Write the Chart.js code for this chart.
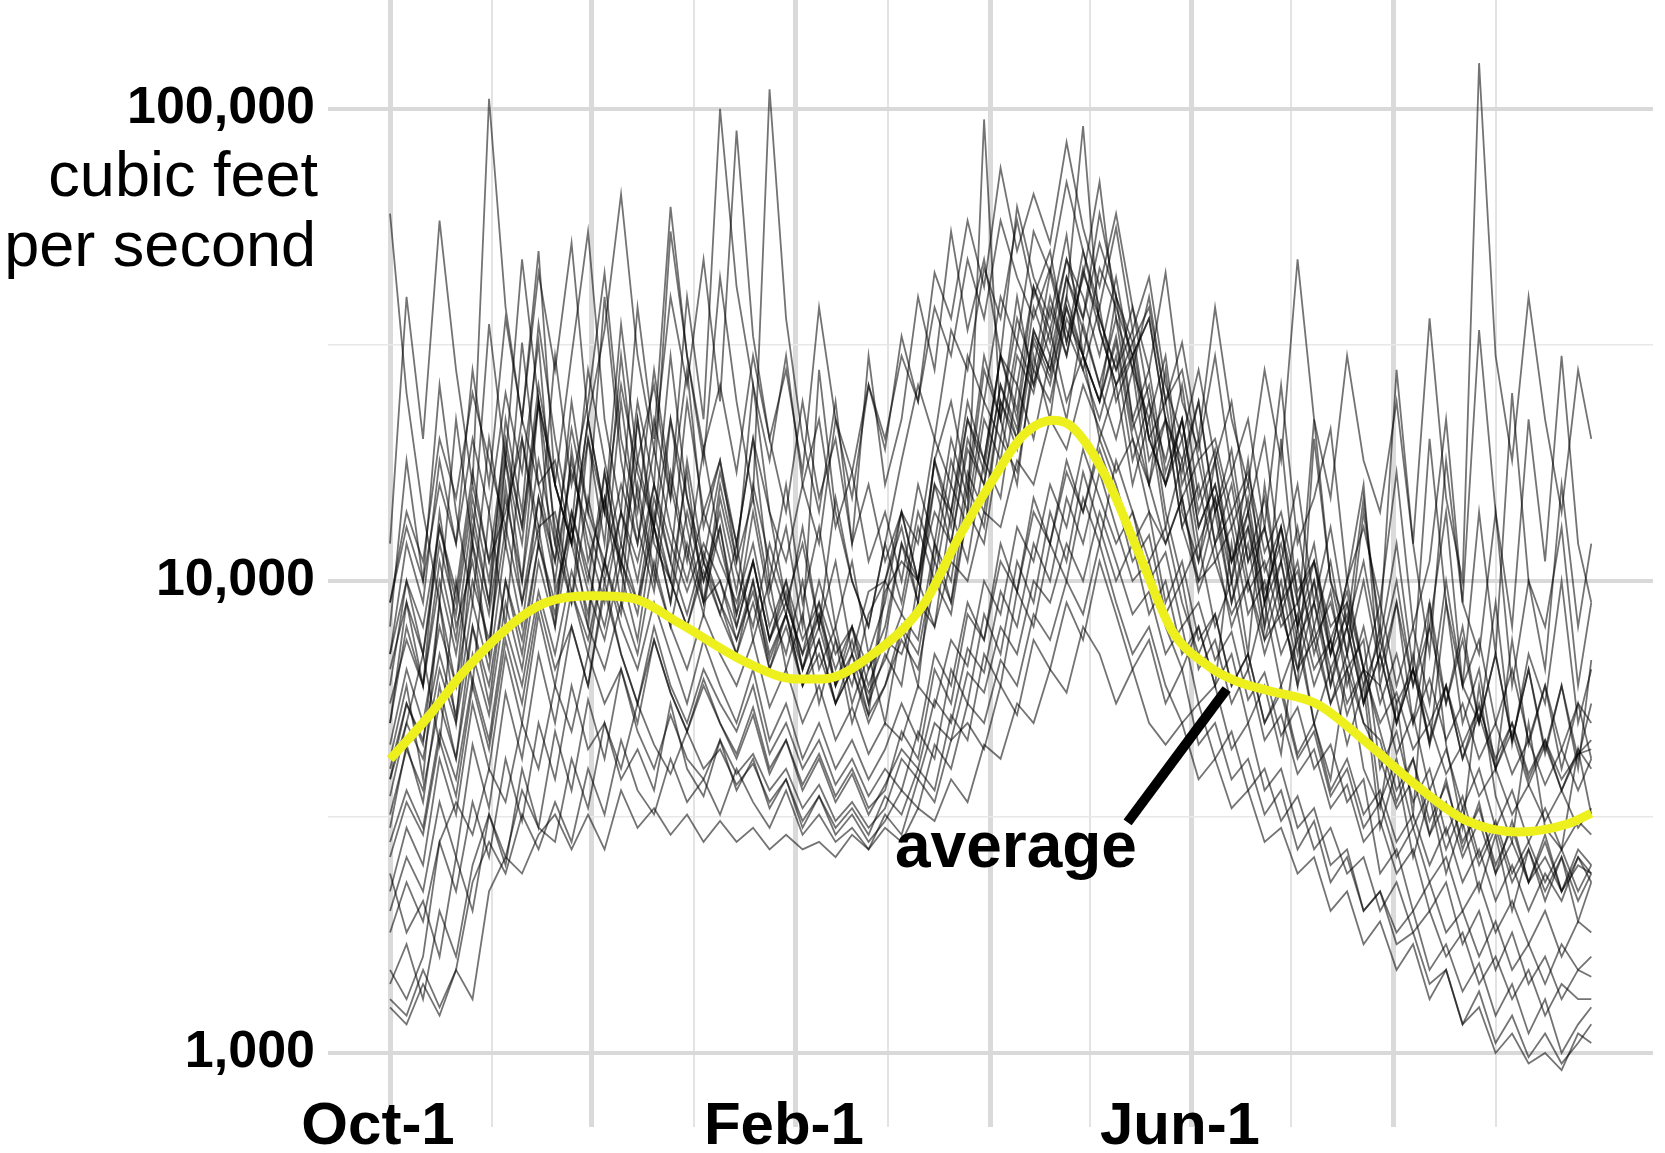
<!DOCTYPE html>
<html>
<head>
<meta charset="utf-8">
<script src="https://cdn.jsdelivr.net/npm/chart.js"></script>
<style>
  html, body { margin: 0; padding: 0; background: #fff; }
  canvas { display: block; }
</style>
</head>
<body>
<canvas id="chart" width="1665" height="1153"></canvas>
<script>
// days after Oct-1 for every sample of the yearly traces
const days = [0,5,10,15,20,25,30,35,40,45,50,55,60,65,70,75,80,85,90,95,
  100,105,110,115,120,125,130,135,140,145,150,155,160,165,170,175,180,185,190,195,
  200,205,210,215,220,225,230,235,240,245,250,255,260,265,270,275,280,285,290,295,
  300,305,310,315,320,325,330,335,340,345,350,355,360,364];

// month starts (gridlines) and the ones that get a label
const monthStarts = [0,31,61,92,123,151,182,212,243,273,304,335];
const monthLabels = {0: "Oct-1", 123: "Feb-1", 243: "Jun-1"};
const flowTicks = [1000, 3162.3, 10000, 31623, 100000];
const flowLabels = {1000: "1,000", 10000: "10,000", 100000: "100,000"};

// yearly flows, thousand cubic feet per second
const s01 = [12,40,20,58,28,16,105,38,22,45, 28,52,22,34,66,30,19,40,26,48, 24,90,33,20,28,17,38,22,15,26, 19,33,24,45,36,58,42,75,50,66, 52,85,56,42,60,38,28,45,24,19, 30,17,22,13,26,12,15,21,10,13, 9,17,8,11,22,9,7,14,6,10, 8,13,6,9];
const s02 = [60,25,14,9,22,12,35,18,48,24, 16,30,55,22,14,38,20,62,30,18, 44,24,15,110,36,20,14,24,12,30, 16,22,40,28,55,34,48,30,62,44, 36,54,30,24,40,22,16,28,14,11, 18,10,14,8,20,9,12,7,10,16, 6,9,5,8,14,6,5,9,4.5,7, 5.5,10,5,6.5];
const s03 = [5,9,6,14,8,11,7,18,10,24, 13,9,20,12,30,15,10,22,13,9, 16,11,26,14,9,12,8,15,10,8, 12,18,26,20,34,28,46,36,58,40, 50,32,44,70,36,28,40,24,32,20, 38,22,16,28,18,48,22,15,30,18, 14,24,12,36,15,10,125,30,18,40, 22,14,28,20];
const s04 = [8,18,10,26,14,9,20,12,32,16, 11,24,14,40,18,12,22,15,28,13, 18,12,20,10,16,9,13,8,11,7, 9,14,10,18,24,16,30,22,40,26, 34,24,30,20,26,16,22,13,18,11, 15,9,13,8,11,7,10,6,9,5.5, 8,5,7,4.5,9,5,6.5,4,7.5,4.5, 6,4,5.5,4.2];
const s05 = [4.2,6,3.8,9,5,12,7,16,9,13, 8,19,11,15,9,22,12,10,17,9, 13,8,11,7.5,10,6.5,9,6,8,5.5, 7,6,10,8,14,11,18,15,26,20, 30,22,35,26,20,28,16,12,15,9.5, 12,8,10,7,9,6,8,5.5,7,5, 4.6,3.4,4.2,2.9,3.8,2.7,3.4,2.4,3.1,2.3, 2.9,2.2,2.7,2.5];
const s06 = [3.5,5,7,4.5,10,6,14,8,20,12, 30,16,24,45,20,14,28,16,11,19, 12,8.5,14,9,7,10,6.5,8,5.5,7, 5,8,6,12,9,16,13,24,19,32, 26,38,28,22,30,18,24,14,10,12, 8,10,6.5,9,6,7.5,5,6.5,4.5,6, 3,4,2.6,3.5,2.4,3.1,2.2,2.9,2,2.7, 2.1,2.6,1.9,2.3];
const s07 = [1.4,1.7,1.3,2,1.6,2.5,3.2,2.6,3.6,3, 2.8,4.2,3.3,5,3.8,4.4,3.6,5.5,4,3.5, 4.6,3.6,4.2,3.3,3.8,3,3.5,2.9,3.2,2.8, 3.1,3.6,3.3,4.5,4,5.5,5,6.8,6,8.5, 7.5,10,8.5,12,9,7,8,6,5,5.5, 4.2,4.8,3.6,4,3.1,3.5,2.7,3,2.4,2.6, 2,2.3,1.8,2,1.6,1.8,1.4,1.6,1.3,1.5, 1.2,1.4,1.3,1.3];
const s08 = [1.3,1.2,1.5,1.25,1.5,2.3,2.8,2.4,3.2,2.7, 3.4,2.8,4,3.2,4.6,3.6,3.2,4.2,3.4,3.8, 3.2,4,3.4,3,3.6,2.9,3.2,2.8,3,2.7, 3.2,2.9,3.8,3.4,4.6,5,4.4,6,5.2,7.5, 6.5,9,7.5,11,8.5,6.5,7.5,5.5,6.5,4.5, 5,3.8,4.2,3.2,3.6,2.7,3.1,2.3,2.6,2, 2.2,1.8,2,1.5,1.7,1.35,1.55,1.2,1.4,1.1, 1.3,1,1.15,1.25];
const s09 = [2.2,3,2.5,4.2,3.2,5.5,4,7,5,8.5, 6,9.5,7,11,8,6.5,9,7,5.5,7.5, 6,5,6.5,4.6,5.5,4.2,5,4,4.6,3.8, 4.4,5.5,4.6,7,6,9,7.5,12,9.5,15, 12,18,14,20,16,12,14,9,11,7.5, 8.5,6,7,5,6,4.3,5,3.6,4.2,3.2, 3.6,2.8,3.2,2.5,3,2.3,2.7,2.1,2.5,2, 2.4,2.1,2.6,2.3];
const s10 = [6,10,7,13,9,16,11,20,13,26, 16,12,22,14,35,18,26,15,40,22, 100,42,26,18,30,16,22,13,17,11, 14,10,16,12,20,15,28,22,36,28, 45,32,50,36,28,34,20,16,22,14, 18,11,15,9,13,8,11,7,10,6.5, 9,6,8,5.5,10,6,7.5,5,6.5,4.6, 6,4.4,5.5,5];
const s11 = [3,4.5,3.4,6,4.2,8,5.5,10,7,12, 8.5,14,10,17,11,9,13,10,8,11, 9,7,10,6.5,8.5,6,7.5,5.5,6.5,5, 6,7.5,6.5,10,8.5,14,12,20,17,28, 24,36,30,46,38,30,36,22,18,24, 14,17,11,13,9,10.5,7.5,9,6.5,7.5, 4,4.8,3.4,4,2.9,3.5,2.6,3.1,2.4,2.8, 2.3,2.7,2.2,2.5];
const s12 = [7,12,9,18,12,28,16,36,22,50, 16,12,22,14,11,18,13,30,15,10, 14,9.5,16,11,8.5,13,8,11,7,9.5, 10,13,9,16,12,20,16,26,20,34, 28,40,30,24,32,20,16,22,13,10, 14,9,12,7.5,10,6.5,9,6,8,5.5, 7,5,6.5,4.6,6,4.2,5.5,4,5,3.8, 4.6,3.6,4.4,4];
const s13 = [1.8,2.3,1.9,2.8,2.2,3.4,2.6,4.2,3.1,5, 3.8,6,4.4,5,4,5.5,4.5,3.9,4.8,4, 4.4,3.7,4.1,3.4,3.8,3.1,3.5,3,3.3,2.9, 3.5,3.2,4,3.6,5.2,4.6,7,6,9.5,8, 12,10,15,12,18,14,11,13,9,7, 8.5,6,7,5,5.8,4.2,4.8,3.5,4,3, 3.4,2.6,3,2.3,2.6,2,2.3,1.8,2.1,1.7, 2,1.6,1.9,1.8];
const s14 = [4.5,6.5,5,8,6,10,7.5,13,9,15, 11,17,13,10,14,11,16,12,9.5,12, 10,8,11,7.5,9,7,8.5,6.5,8,6, 7.5,12,9,18,14,24,18,30,22,38, 30,44,34,26,36,22,28,17,22,13, 16,11,13,9,11,7.5,9,6.5,8,5.5, 7,5,6.5,4.5,6,4.2,5.2,4,4.8,3.7, 4.5,3.6,4.3,4.6];
const s15 = [1.25,1.15,1.4,1.2,1.5,1.3,2.2,2.6,2.4,2.9, 3.2,2.7,3.2,2.7,3.6,3,3.3,2.9,3.2,2.8, 3.1,2.8,3,2.7,2.9,2.7,2.8,2.6,2.9,2.7, 3,2.8,3.3,3.1,3.8,3.4,4.5,4.2,5.5,5, 6.5,5.8,8,7,5.5,6.5,5,4.5,5,3.8, 4.2,3.3,3.6,2.8,3,2.4,2.6,2,2.2,1.7, 1.9,1.5,1.7,1.3,1.5,1.15,1.35,1.05,1.2,0.98, 1.1,0.95,1.05,1.15];
const s16 = [9,14,11,20,15,25,18,13,22,16, 18,12,8.5,15,10.5,22,13,9,14,10, 13,8.5,11,7.5,9.5,6.5,8.5,6,7.5,5.5, 10,14,12,20,16,30,24,40,32,55, 45,70,50,38,56,34,44,26,20,28, 18,24,14,20,11,16,9,13,8,11, 7,10,6,9,5.5,8,5,7,4.6,6.5, 4.4,6,4.2,5.5];
const s17 = [2.6,3.4,2.9,4.6,3.5,6,4.4,7.5,5.5,9, 6.5,8,6,10,7,5.5,8,6,5,6.5, 5.5,4.8,6,4.3,5,4,4.6,3.7,4.2,3.5, 4,3.6,4.8,4.2,6.5,5.5,8.5,7,11,9, 14,11,17,13,10,12,8.5,10,7,8, 6,7,5,6,4.3,8,5,3.8,6.5,4, 3.3,5.5,3.2,9,4.5,3,6,3.5,2.8,5, 3,2.7,4.4,3.2];
const s18 = [3.8,5.5,4.5,9,6,13,9,22,14,35, 20,13,28,18,12,24,16,55,30,19, 26,17,30,20,14,24,15,20,12,16, 11,14,10,18,13,22,17,30,23,42, 32,48,36,60,40,30,36,22,17,24, 14,19,11,15,9,13,8,11,7,10, 6.5,9,6,8,5.5,7.5,5,7,4.6,6.5, 4.3,6,4,6.8];
const s19 = [5.5,7.5,6,10,7,12,8.5,15,10,18, 12,21,14,11,16,12,19,13,10,14, 11,9,12,8,10,7.5,9,7,8,6.5, 7.5,7,9,8,11,10,14,13,18,16, 22,19,26,21,17,20,14,12,15,10, 11,8.5,10,7.5,8.5,6.5,7.5,5.5,6.5,5, 4.2,3.3,3.8,2.9,3.4,2.6,3.1,2.4,2.8,2.3, 2.6,2.2,2.5,2.4];
const s20 = [2,2.6,2.2,3.4,2.6,4.5,3.3,5.8,4.2,7, 5,8,6,9.5,7,5.5,7.5,5.8,4.8,6.2, 5,4.2,5.2,3.9,4.6,3.6,4.2,3.4,3.9,3.2, 3.7,4.4,4,5.6,5,7.2,6.4,9.5,8,12, 10,15,12,17,13,10,11,8,6.5,8, 6,12,7,16,9,6,20,10,7,14, 8,28,12,7,18,9,34,14,8,22, 11,30,12,9];
const s21 = [3.2,4.4,3.6,5.5,4.2,7,5.2,9,6.5,11, 8,13,9.5,7.5,11,8.5,14,10,8,10.5, 8.5,7,9,6.5,8,6,7,5.5,6.5,5.2, 6,8,7,11,9,14,95,22,16,30, 22,40,92,34,26,32,20,24,15,18, 12,14,9.5,11,8,9,6.5,7.5,5.5,6.5, 5,5.8,4.4,5,3.9,4.5,3.5,4,3.2,3.7, 3.1,3.6,3,3.3];
const s22 = [2.4,1.8,2.1,1.6,2.6,2,3.2,2.5,4,3, 4.8,3.6,5.6,4.2,6.5,4.8,4,5.2,4.2,3.8, 4.6,3.9,4.3,3.6,4,3.3,3.7,3.1,3.4,3, 3.3,4.2,3.8,5,4.6,6.4,5.8,8,7,10, 9,12,10,14,11,8.5,9.5,7,8,5.5, 6,4.4,5,3.6,4,3,3.3,2.5,2.7,2, 2.2,1.7,1.8,1.4,1.5,1.15,1.25,1,1.1,0.95, 1,0.92,1.1,1.05];
const s23 = [5,8,6,11,7.5,14,9,18,12,24, 9.5,13,8,17,10.5,7.5,13,9,18,11, 8.5,12,7.5,10,6.5,8.5,5.5,7.5,5,6.5, 8,12,10,16,14,22,18,30,26,42, 34,48,40,30,44,28,22,30,16,20, 12,16,10,13,8.5,11,7,9.5,6,8, 5.5,7,5,6.2,4.6,5.5,4.2,5,3.9,4.6, 3.7,4.4,3.6,4.2];
const s24 = [4,5.5,4.6,7,5.2,9,6.5,12,8,15, 10,18,12,9,14,10,16,11,24,14, 18,11,15,9.5,13,8,28,14,10,8, 12,9,14,11,18,14,24,20,32,26, 40,30,46,34,26,30,18,22,13,16, 11,13,8.5,10,7,8.5,6,7.5,5.2,6.5, 3.4,4.2,3,3.6,2.7,3.3,2.5,3,2.3,2.7, 2.2,2.6,2.1,2.4];
const s25 = [9,13,10,16,12,20,14,25,17,32, 12,9,15,10.5,24,13,9.5,17,11.5,8.5, 15,10.5,8,12,9,7,10,7.5,6,8.5, 10,8.5,13,10,16,13,22,18,30,25, 38,30,45,36,28,38,24,18,26,15, 19,13,16,10.5,13,9,11,7.5,9.5,6.5, 6,4.3,5.2,3.6,4.4,3.3,4,3,3.6,2.8, 3.3,2.7,3.1,2.9];
const s26 = [1.5,1.3,1.6,2.8,3.4,2.9,4,3.4,5,4, 6,4.8,7,5.5,6.5,5,7.5,5.8,4.8,6, 5,4.3,5.4,4,4.6,3.7,4.3,3.5,4,3.3, 3.6,4.8,4.2,6.5,5.5,8.5,7.5,11,9.5,14, 12,17,14,19,15,11,12.5,8.5,10,6.5, 7.5,5.5,6.5,4.6,5.2,3.9,4.4,3.3,3.7,2.8, 3.1,2.4,2.7,2,2.3,1.7,2,1.5,1.8,1.4, 1.6,1.3,1.5,1.45];
const s27 = [3.8,5,4.2,6.5,5,8,6,10,7.5,12, 9,14,10.5,8,12,9,15,11,8.5,11.5, 9,7.5,10,7,8.5,6.5,8,6,7,5.8, 6.8,8.5,7.5,12,10,17,14,24,20,34, 28,44,36,52,40,32,38,24,28,18, 20,14,17,11.5,14,9.5,11,8,9,6.5, 4.8,3.6,4.2,3.1,3.7,2.8,3.3,2.5,3,2.3, 2.8,2.2,2.6,2.4];
const s28 = [6.5,9,7,12,8.5,15,10,19,13,24, 16,12,20,14,26,17,13,22,15,11, 17,12,20,14,11,16,12,22,17,26, 20,30,24,38,30,48,36,58,44,36, 46,34,28,38,24,30,20,16,22,13, 16,11,14,9.5,12,8,10,7,8.5,6, 7.5,5.5,6.5,5,6,4.5,5.4,4.2,5,3.9, 4.6,3.8,4.3,4.4];
const s29 = [2.8,3.6,3,4.8,3.8,6.2,4.6,8,6,9.5, 7,10.5,8,6.5,9,7,11,8,6.5,8.5, 7,6,7.5,5.4,6.5,5,6,4.6,5.4,4.3, 5,4.6,6,5.4,7.5,6.6,10,8.5,13,11, 16,13,19,15,12,14,10,11.5,8,9, 6.8,7.8,5.6,6.4,4.7,5.4,4,4.5,3.4,3.8, 2.4,2.7,2,2.3,1.8,2,1.6,1.9,1.5,1.7, 1.4,1.7,1.5,1.6];
const s30 = [7,10,8,13,9.5,17,11,14,20,13, 14,9.5,7.5,11,8.5,16,10.5,8,12,9, 10,7.5,9.5,6.8,8.5,6,7.5,5.5,7,5.2, 9.5,11,10,14,12,19,16,26,21,33, 27,38,30,24,33,21,26,16,20,12, 15,10,18,9,13,8,22,10,8,15, 7.5,12,6.5,20,9,6,14,7,25,10, 6.5,16,8,12];
const years = [s01,s02,s03,s04,s05,s06,s07,s08,s09,s10,s11,s12,s13,s14,s15,
  s16,s17,s18,s19,s20,s21,s22,s23,s24,s25,s26,s27,s28,s29,s30];

// smoothed average, cubic feet per second
const avgDays = [0,12,22,37,47,61,73,88,108,123,131,146,162,172,182,192,201,207,217,227,237,248,256,266,281,296,311,326,342,357,364];
const avgFlow = [4190,5200,6380,8110,8990,9300,9200,8110,6720,6200,6200,6970,8990,12250,16100,20400,21900,21100,16600,11400,7840,6600,6150,5860,5480,4540,3690,3110,2940,3060,3220];

const FONT = '"Liberation Sans", Arial, sans-serif';
Chart.defaults.font.family = FONT;

const datasets = [{
  data: avgDays.map((d, i) => ({ x: d, y: avgFlow[i] })),
  borderColor: "#eef01e",
  borderWidth: 9,
  pointRadius: 0,
  cubicInterpolationMode: "monotone",
  order: 0,
}];
years.forEach(function (vals) {
  datasets.push({
    data: vals.map((v, i) => ({ x: days[i], y: v * 1000 })),
    borderColor: "rgba(0,0,0,0.55)",
    borderWidth: 1.8,
    pointRadius: 0,
    tension: 0,
    order: 1,
  });
});

// axis title and the "average" pointer
const notes = {
  id: "notes",
  afterDraw(chart) {
    const { ctx } = chart;
    const x = chart.scales.x, y = chart.scales.y;
    const top = y.getPixelForValue(100000);
    ctx.save();
    ctx.fillStyle = "#000";
    ctx.textAlign = "right";
    ctx.textBaseline = "alphabetic";
    ctx.font = "63px " + FONT;
    ctx.fillText("cubic feet", 318, top + 87);
    ctx.fillText("per second", 316, top + 157);

    ctx.strokeStyle = "#000";
    ctx.lineWidth = 10;
    ctx.beginPath();
    ctx.moveTo(x.getPixelForValue(223.5), y.getPixelForValue(3080));
    ctx.lineTo(x.getPixelForValue(253.5), y.getPixelForValue(5900));
    ctx.stroke();

    ctx.textAlign = "left";
    ctx.font = "bold 64px " + FONT;
    ctx.fillText("average", x.getPixelForValue(153), y.getPixelForValue(2480));
    ctx.restore();
  },
};

new Chart(document.getElementById("chart"), {
  type: "line",
  data: { datasets: datasets },
  plugins: [notes],
  options: {
    responsive: false,
    animation: false,
    devicePixelRatio: 1,
    layout: { padding: { left: 0, right: 12, top: 0, bottom: 0 } },
    plugins: { legend: { display: false }, tooltip: { enabled: false } },
    scales: {
      x: {
        type: "linear",
        min: -18.8,
        max: 382.7,
        afterBuildTicks: (s) => { s.ticks = monthStarts.map((v) => ({ value: v })); },
        afterFit: (s) => { s.height = 26; s.paddingTop = 0; s.paddingBottom = 0; },
        border: { display: false },
        grid: {
          drawTicks: false,
          color: (c) => (c.index % 2 === 0 ? "#dadada" : "#e3e3e3"),
          lineWidth: (c) => (c.index % 2 === 0 ? 5 : 2),
        },
        ticks: {
          autoSkip: false,
          maxRotation: 0,
          mirror: true,
          padding: -36,
          labelOffset: -12,
          color: "#000",
          font: { size: 60, weight: "bold" },
          callback: (v) => monthLabels[v] || "",
        },
      },
      y: {
        type: "logarithmic",
        min: 697,
        max: 170100,
        afterBuildTicks: (s) => { s.ticks = flowTicks.map((v) => ({ value: v })); },
        afterFit: (s) => { s.width = 328; s.paddingTop = 0; s.paddingBottom = 0; },
        border: { display: false },
        grid: {
          drawTicks: false,
          color: (c) => (flowLabels[c.tick.value] ? "#d9d9d9" : "#e8e8e8"),
          lineWidth: (c) => (flowLabels[c.tick.value] ? 4 : 1.5),
        },
        ticks: {
          padding: 13,
          color: "#000",
          font: { size: 52, weight: "bold" },
          callback: (v) => flowLabels[v] || "",
        },
      },
    },
  },
});
</script>
</body>
</html>
